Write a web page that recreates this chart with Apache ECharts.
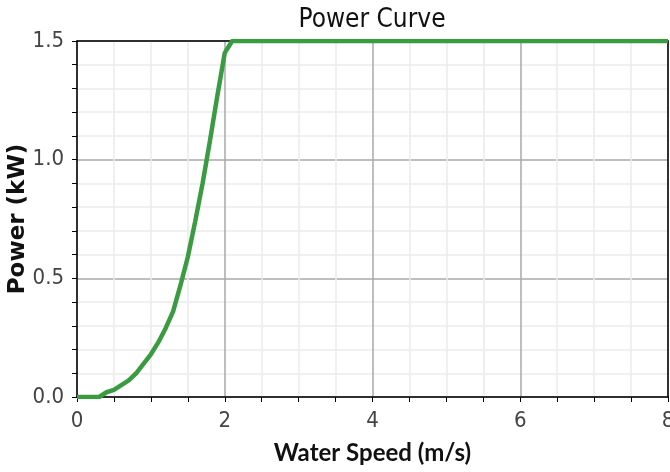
<!DOCTYPE html>
<html>
<head>
<meta charset="utf-8">
<script src="https://cdn.jsdelivr.net/npm/echarts@6/dist/echarts.min.js"></script>
<style>html,body{margin:0;padding:0;background:#fff;}#c{width:670px;height:472px;}</style>
</head>
<body>
<div id="c"></div>
<script>
const speeds = [0, 0.1, 0.2, 0.3, 0.4, 0.5, 0.6, 0.7, 0.8, 0.9, 1.0, 1.1, 1.2, 1.3, 1.4, 1.5, 1.6, 1.7, 1.8, 1.9, 2.0, 2.1, 8.0];
const powers = [0, 0, 0, 0, 0.02, 0.03, 0.05, 0.07, 0.10, 0.14, 0.18, 0.23, 0.29, 0.36, 0.47, 0.59, 0.74, 0.90, 1.08, 1.27, 1.45, 1.5, 1.5];
const xTicks = [0, 2, 4, 6, 8];
const yTicks = [0, 0.5, 1.0, 1.5];

const narrow = '"Liberation Sans Narrow", "DejaVu Sans Condensed", "Arial Narrow", sans-serif';
const frameAxis = {
  type: 'value', axisLine: {show: true, onZero: false, lineStyle: {color: '#000', width: 1.5}},
  axisTick: {show: false}, axisLabel: {show: false}, splitLine: {show: false}
};
const chart = echarts.init(document.getElementById('c'), null, {renderer: 'canvas'});
chart.setOption({
  animation: false,
  backgroundColor: '#fff',
  title: {
    text: 'Power Curve', left: 372, top: 7, padding: 0, textAlign: 'center',
    textStyle: {fontFamily: narrow, fontSize: 26, fontWeight: 'normal', color: '#111'}
  },
  grid: {left: 77, right: 2, top: 41, bottom: 75, show: false,
         containLabel: false, outerBoundsMode: 'none'},
  xAxis: [{
    type: 'value', min: xTicks[0], max: xTicks[xTicks.length - 1], interval: 2,
    name: 'Water Speed (m/s)', nameLocation: 'middle', nameGap: 44, nameMoveOverlap: false,
    nameTextStyle: {fontFamily: 'Lato, "Open Sans", sans-serif', fontWeight: 'bold', fontSize: 24, color: '#111'},
    axisLine: {show: true, onZero: false, lineStyle: {color: '#000', width: 1.5}},
    axisTick: {show: true, length: 5, lineStyle: {color: '#000'}},
    minorTick: {show: true, splitNumber: 4, length: 5, lineStyle: {color: '#000'}},
    axisLabel: {margin: 13, fontFamily: narrow, fontSize: 22, color: '#444', hideOverlap: false},
    splitLine: {show: true, lineStyle: {color: '#a8a8a8', width: 1.5}},
    minorSplitLine: {show: true, lineStyle: {color: '#ececec', width: 1.5}}
  }, Object.assign({position: 'top', min: xTicks[0], max: xTicks[xTicks.length - 1]}, frameAxis)],
  yAxis: [{
    type: 'value', min: yTicks[0], max: yTicks[yTicks.length - 1], interval: 0.5,
    name: 'Power (kW)', nameLocation: 'middle', nameGap: 47, nameRotate: 90, nameMoveOverlap: false,
    nameTextStyle: {fontFamily: '"DejaVu Sans", sans-serif', fontWeight: 'bold', fontSize: 23, color: '#111'},
    axisLine: {show: true, onZero: false, lineStyle: {color: '#000', width: 1.5}},
    axisTick: {show: true, length: 5, lineStyle: {color: '#000'}},
    minorTick: {show: true, splitNumber: 5, length: 5, lineStyle: {color: '#000'}},
    axisLabel: {margin: 13, fontFamily: narrow, fontSize: 22, color: '#444', formatter: v => v.toFixed(1)},
    splitLine: {show: true, lineStyle: {color: '#a8a8a8', width: 1.5}},
    minorSplitLine: {show: true, lineStyle: {color: '#ececec', width: 1.5}}
  }, Object.assign({position: 'right', min: yTicks[0], max: yTicks[yTicks.length - 1]}, frameAxis)],
  series: [{
    type: 'line', showSymbol: false, smooth: false, z: 5,
    data: speeds.map((s, i) => [s, powers[i]]),
    lineStyle: {color: '#3a9b42', width: 4.5},
    itemStyle: {color: '#3a9b42'}
  }]
});
</script>
</body>
</html>
